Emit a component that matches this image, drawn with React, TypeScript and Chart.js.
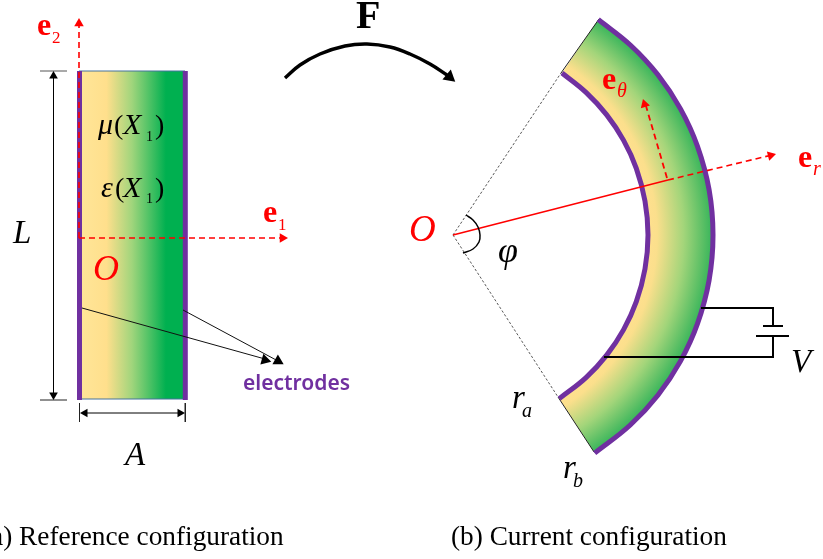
import React, { useEffect, useRef } from "react";
import { Chart, registerables } from "chart.js";

Chart.register(...registerables);

// Outline readings (picture coordinates)
const rectX = [79, 185, 185, 79];
const rectY = [71, 71, 399, 399];
const leftElectrodeX = [79.5, 79.5];
const leftElectrodeY = [71, 400];
const rightElectrodeX = [185.3, 185.3];
const rightElectrodeY = [71, 400];
const rectTopX = [79, 185];
const rectTopY = [71, 71];
const rectBottomX = [79, 185];
const rectBottomY = [399, 399];

const innerArcX = [562, 586, 606.7, 623.6, 636.3, 645, 648, 645, 636.3, 623.6, 606.7, 586, 559.3];
const innerArcY = [73, 92.4, 114.9, 140.4, 168.3, 201.1, 235, 268.9, 301.7, 329.6, 355.1, 377.6, 398.6];
const outerArcX = [598.3, 630.3, 657.9, 680.5, 697.4, 709.1, 713, 709.1, 697.4, 680.5, 657.9, 630.3, 594.7];
const outerArcY = [19.5, 45, 74.8, 108.9, 146.1, 189.8, 235, 280.2, 323.9, 361.1, 395.2, 425, 453.1];

const axis2X = [79, 79];
const axis2Y = [238, 26];
const axis1X = [79, 280];
const axis1Y = [238, 238];
const dimLX = [53.5, 53.5];
const dimLY = [75, 396];
const dimLTopX = [40, 67];
const dimLTopY = [71, 71];
const dimLBottomX = [40, 67];
const dimLBottomY = [400, 400];
const dimAX = [84, 181];
const dimAY = [413, 413];
const dimALeftX = [79.5, 79.5];
const dimALeftY = [403, 422];
const dimARightX = [185.3, 185.3];
const dimARightY = [403, 422];
const lead1X = [82, 265];
const lead1Y = [308, 359];
const lead2X = [183, 278];
const lead2Y = [310, 361];

const mapArrowX = [285, 300, 320, 345, 367, 390, 410, 430, 447];
const mapArrowY = [78, 65, 54, 46, 44, 47, 54, 64, 75];

const rayTopX = [453, 561];
const rayTopY = [235, 73];
const rayBottomX = [453, 558];
const rayBottomY = [235, 397];
const capTopX = [561, 599];
const capTopY = [73, 19];
const capBottomX = [558, 594];
const capBottomY = [397, 452];
const radialSolidX = [453, 668];
const radialSolidY = [235, 180];
const radialDashX = [668, 772];
const radialDashY = [180, 155];
const tangentX = [667, 646];
const tangentY = [178, 106];
const angleArcX = [466, 473, 478, 480, 479, 473, 463];
const angleArcY = [215, 220, 227, 235, 242, 249, 253];

const wireTopX = [701, 773, 773];
const wireTopY = [308, 308, 326];
const wireBottomX = [773, 773, 604];
const wireBottomY = [336, 357, 357];
const plateShortX = [763, 783];
const plateShortY = [326, 326];
const plateLongX = [756, 789];
const plateLongY = [336, 336];

const redHeadX = [79, 282.5, 770.7, 644.6];
const redHeadY = [23.5, 238, 155.4, 104.3];
const redHeadAngle = [0, 90, 75.6, -17.3];
const blackHeadX = [53.5, 53.5, 85, 180, 265, 278, 449.5];
const blackHeadY = [76, 395, 413, 413, 360, 361, 77];
const blackHeadAngle = [0, 180, -90, 90, 105.5, 119, 130];
const blackHeadSize = [5, 5, 5, 5, 6.5, 6.5, 7.5];

const SERIF = '"Liberation Serif"';
const RED = "#FF0000";
const PURPLE = "#7030A0";
const BLACK = "#000000";

// [text, x, y, font, colour]
const labels: [string, number, number, string, string][] = [
  ["F", 356, 28, `bold 40px ${SERIF}`, BLACK],
  ["e", 37, 35, `bold 32px ${SERIF}`, RED],
  ["2", 52, 43, `17px ${SERIF}`, RED],
  ["e", 263, 222, `bold 32px ${SERIF}`, RED],
  ["1", 278, 230, `17px ${SERIF}`, RED],
  ["O", 93, 280, `italic 36px ${SERIF}`, RED],
  ["L", 13, 243, `italic 33px ${SERIF}`, BLACK],
  ["μ", 98, 134, `italic 30px ${SERIF}`, BLACK],
  ["(", 114, 134, `28px ${SERIF}`, BLACK],
  ["X", 123, 134, `italic 30px ${SERIF}`, BLACK],
  ["1", 146, 141, `14px ${SERIF}`, BLACK],
  [")", 155, 134, `28px ${SERIF}`, BLACK],
  ["ε", 101, 197, `italic 30px ${SERIF}`, BLACK],
  ["(", 115, 197, `28px ${SERIF}`, BLACK],
  ["X", 123, 197, `italic 30px ${SERIF}`, BLACK],
  ["1", 146, 203, `14px ${SERIF}`, BLACK],
  [")", 155, 197, `28px ${SERIF}`, BLACK],
  ["electrodes", 243, 390, `600 21px "Noto Sans"`, PURPLE],
  ["A", 125, 465, `italic 33px ${SERIF}`, BLACK],
  ["(a) Reference configuration", -18, 545, `27.3px ${SERIF}`, BLACK],
  ["(b) Current configuration", 451, 545, `27.3px ${SERIF}`, BLACK],
  ["O", 409, 241, `italic 37px ${SERIF}`, RED],
  ["φ", 498, 262, `italic 36px ${SERIF}`, BLACK],
  ["e", 602, 89, `bold 32px ${SERIF}`, RED],
  ["θ", 617, 97, `italic 20px ${SERIF}`, RED],
  ["e", 798, 167, `bold 32px ${SERIF}`, RED],
  ["r", 813, 175, `italic 20px ${SERIF}`, RED],
  ["V", 791, 372, `italic 33px ${SERIF}`, BLACK],
  ["r", 512, 408, `italic 33px ${SERIF}`, BLACK],
  ["a", 522, 417, `italic 20px ${SERIF}`, BLACK],
  ["r", 563, 478, `italic 33px ${SERIF}`, BLACK],
  ["b", 573, 487, `italic 20px ${SERIF}`, BLACK],
];

const xy = (xs: number[], ys: number[]) => xs.map((x, i) => ({ x, y: ys[i] }));

const stroke = (
  xs: number[],
  ys: number[],
  color: string,
  width: number,
  extra: Record<string, unknown> = {}
) => ({
  data: xy(xs, ys),
  showLine: true,
  borderColor: color,
  borderWidth: width,
  pointRadius: 0,
  fill: false,
  tension: 0,
  ...extra,
});

const rectGradient = (ctx: any) => {
  const { chart } = ctx;
  const sx = chart.scales.x;
  const x0 = sx ? sx.getPixelForValue(79) : NaN;
  const x1 = sx ? sx.getPixelForValue(185) : NaN;
  if (!Number.isFinite(x0) || !Number.isFinite(x1)) return "#FFE699";
  const g = chart.ctx.createLinearGradient(x0, 0, x1, 0);
  g.addColorStop(0, "#FFE699");
  g.addColorStop(0.26, "#FFDF8C");
  g.addColorStop(0.5, "#A0D57C");
  g.addColorStop(0.82, "#00B050");
  g.addColorStop(1, "#00B050");
  return g;
};

const ringGradient = (ctx: any) => {
  const { chart } = ctx;
  const { x: sx, y: sy } = chart.scales;
  const cx = sx ? sx.getPixelForValue(453) : NaN;
  const cy = sy ? sy.getPixelForValue(235) : NaN;
  if (!Number.isFinite(cx) || !Number.isFinite(cy)) return "#FFE699";
  const g = chart.ctx.createRadialGradient(cx, cy, 195, cx, cy, 260);
  g.addColorStop(0, "#FFE08F");
  g.addColorStop(0.14, "#FBDF8C");
  g.addColorStop(0.55, "#A3D57A");
  g.addColorStop(1, "#35B45A");
  return g;
};

const labelPlugin = {
  id: "labelPlugin",
  afterDatasetsDraw(chart: any) {
    const { ctx, scales } = chart;
    ctx.save();
    ctx.textBaseline = "alphabetic";
    ctx.textAlign = "left";
    for (const [text, x, y, font, color] of labels) {
      ctx.font = font;
      ctx.fillStyle = color;
      ctx.fillText(text, scales.x.getPixelForValue(x), scales.y.getPixelForValue(y));
    }
    ctx.restore();
  },
};

export default function App() {
  const ref = useRef<HTMLCanvasElement>(null);

  useEffect(() => {
    if (!ref.current) return;
    const DASH = [6, 4];
    const paintOrder: any[] = [
      // reference configuration
      {
        ...stroke(rectX, rectY, "rgba(0,0,0,0)", 0),
        fill: "shape",
        backgroundColor: rectGradient,
      },
      stroke(rectTopX, rectTopY, "#44729D", 1),
      stroke(rectBottomX, rectBottomY, "#44729D", 1),
      stroke(leftElectrodeX, leftElectrodeY, PURPLE, 5),
      stroke(rightElectrodeX, rightElectrodeY, PURPLE, 5),
      stroke(axis2X, axis2Y, RED, 1.6, { borderDash: DASH }),
      stroke(axis1X, axis1Y, RED, 1.6, { borderDash: DASH }),
      stroke(dimLX, dimLY, BLACK, 1),
      stroke(dimLTopX, dimLTopY, "#555555", 1),
      stroke(dimLBottomX, dimLBottomY, "#222222", 1),
      stroke(dimAX, dimAY, BLACK, 1),
      stroke(dimALeftX, dimALeftY, "#222222", 1),
      stroke(dimARightX, dimARightY, "#222222", 1),
      stroke(lead1X, lead1Y, "#111111", 1),
      stroke(lead2X, lead2Y, "#111111", 1),
      // deformation arrow
      stroke(mapArrowX, mapArrowY, BLACK, 3.5, { tension: 0.4 }),
      // current configuration
      {
        ...stroke(
          [...outerArcX, ...[...innerArcX].reverse()],
          [...outerArcY, ...[...innerArcY].reverse()],
          "rgba(0,0,0,0)",
          0
        ),
        fill: "shape",
        backgroundColor: ringGradient,
      },
      stroke(rayTopX, rayTopY, "#444444", 0.9, { borderDash: [2.5, 2] }),
      stroke(rayBottomX, rayBottomY, "#444444", 0.9, { borderDash: [2.5, 2] }),
      stroke(capTopX, capTopY, "#222222", 1),
      stroke(capBottomX, capBottomY, "#222222", 1),
      stroke(innerArcX, innerArcY, PURPLE, 5, { tension: 0.4 }),
      stroke(outerArcX, outerArcY, PURPLE, 5, { tension: 0.4 }),
      stroke(radialSolidX, radialSolidY, RED, 1.6),
      stroke(radialDashX, radialDashY, RED, 1.6, { borderDash: DASH }),
      stroke(tangentX, tangentY, RED, 1.8, { borderDash: DASH }),
      stroke(angleArcX, angleArcY, BLACK, 1.5, { tension: 0.4 }),
      stroke(wireTopX, wireTopY, BLACK, 2),
      stroke(wireBottomX, wireBottomY, BLACK, 2),
      stroke(plateShortX, plateShortY, BLACK, 2),
      stroke(plateLongX, plateLongY, BLACK, 2),
      {
        data: xy(redHeadX, redHeadY),
        showLine: false,
        pointStyle: "triangle",
        pointRadius: 5.5,
        pointRotation: redHeadAngle,
        pointBackgroundColor: RED,
        pointBorderColor: RED,
        pointBorderWidth: 0,
      },
      {
        data: xy(blackHeadX, blackHeadY),
        showLine: false,
        pointStyle: "triangle",
        pointRadius: blackHeadSize,
        pointRotation: blackHeadAngle,
        pointBackgroundColor: BLACK,
        pointBorderColor: BLACK,
        pointBorderWidth: 0,
      },
    ];

    const chart = new Chart(ref.current, {
      type: "scatter",
      data: { datasets: paintOrder.reverse() },
      options: {
        animation: false,
        responsive: false,
        events: [],
        layout: { padding: 0, autoPadding: false },
        plugins: { legend: { display: false }, tooltip: { enabled: false } },
        scales: {
          x: { type: "linear", min: 0, max: 823, display: false },
          y: { type: "linear", min: 0, max: 559, reverse: true, display: false },
        },
      },
      plugins: [labelPlugin],
    } as any);
    chart.update();
    return () => chart.destroy();
  }, []);

  return (
    <canvas
      ref={ref}
      width={823}
      height={559}
      style={{ position: "absolute", left: 0, top: 0, width: 823, height: 559, display: "block", background: "#FFFFFF" }}
    />
  );
}
